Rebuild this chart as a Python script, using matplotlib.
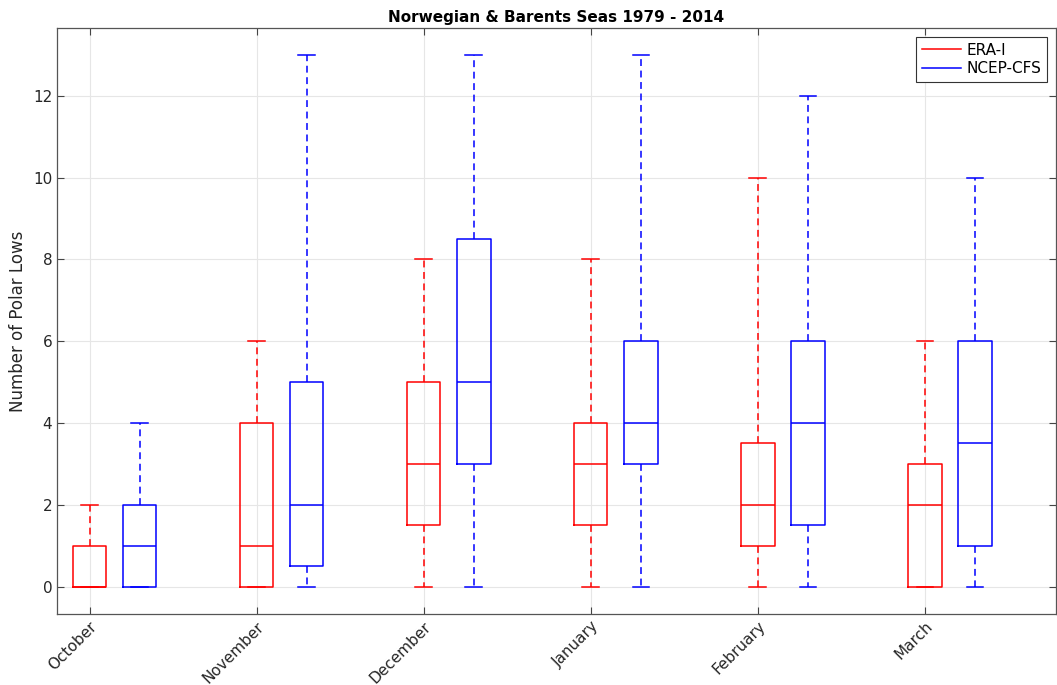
import numpy as np
import matplotlib
matplotlib.use("Agg")
import matplotlib.pyplot as plt
from matplotlib.lines import Line2D

months = ["October", "November", "December", "January", "February", "March"]

# five-number summaries: min, q1, median, q3, max
era_min = [0, 0, 0, 0, 0, 0]
era_q1 = [0, 0, 1.5, 1.5, 1, 0]
era_med = [0, 1, 3, 3, 2, 2]
era_q3 = [1, 4, 5, 4, 3.5, 3]
era_max = [2, 6, 8, 8, 10, 6]

ncep_min = [0, 0, 0, 0, 0, 0]
ncep_q1 = [0, 0.5, 3, 3, 1.5, 1]
ncep_med = [1, 2, 5, 4, 4, 3.5]
ncep_q3 = [2, 5, 8.5, 6, 6, 6]
ncep_max = [4, 13, 13, 13, 12, 10]


def make_stats(mins, q1s, meds, q3s, maxs):
    stats = []
    for lo, q1, med, q3, hi in zip(mins, q1s, meds, q3s, maxs):
        stats.append({"whislo": lo, "q1": q1, "med": med, "q3": q3,
                      "whishi": hi, "fliers": []})
    return stats


def draw(ax, stats, positions, color):
    ax.bxp(stats, positions=positions, widths=0.2, showfliers=False,
           boxprops=dict(color=color, linewidth=1.1),
           medianprops=dict(color=color, linewidth=1.1),
           whiskerprops=dict(color=color, linewidth=1.1, linestyle=(0, (4.5, 3))),
           capprops=dict(color=color, linewidth=1.1),
           capwidths=0.1, manage_ticks=False)


def main():
    fig = plt.figure(figsize=(10.57, 6.85), dpi=100)
    ax = fig.add_axes([57 / 1057, 1 - 614 / 685, 999 / 1057, 586 / 685])

    pos = np.arange(1, len(months) + 1)
    draw(ax, make_stats(era_min, era_q1, era_med, era_q3, era_max), pos, "#ff0000")
    draw(ax, make_stats(ncep_min, ncep_q1, ncep_med, ncep_q3, ncep_max), pos + 0.3, "#0000ff")

    ax.set_xlim(0.805, 6.785)
    ax.set_ylim(-0.67, 13.66)
    ax.set_xticks(pos)
    ax.set_xticklabels(months, rotation=45, ha="right", rotation_mode="anchor",
                       fontsize=11, color="#262626")
    ax.set_yticks(np.arange(0, 13, 2))
    ax.tick_params(axis="y", labelsize=11, labelcolor="#262626")
    ax.tick_params(direction="in", length=5, color="#444444", top=True, right=True)

    ax.grid(True, color="#e6e6e6", linewidth=0.8)
    ax.set_axisbelow(True)
    for s in ax.spines.values():
        s.set_color("#555555")
        s.set_linewidth(0.9)

    ax.set_ylabel("Number of Polar Lows", fontsize=12, color="#262626")
    ax.set_title("Norwegian & Barents Seas 1979 - 2014", fontsize=11,
                 fontweight="bold", pad=4.5)

    handles = [Line2D([], [], color="#ff0000", linewidth=1.1),
               Line2D([], [], color="#0000ff", linewidth=1.1)]
    leg = ax.legend(handles, ["ERA-I", "NCEP-CFS"], loc="upper right",
                    fontsize=11, fancybox=False, framealpha=1,
                    edgecolor="#333333", borderaxespad=0.6,
                    handlelength=2.6, handletextpad=0.35, borderpad=0.35,
                    labelspacing=0.25)
    leg.get_frame().set_linewidth(0.8)

    fig.savefig("out.png", dpi=100)


if __name__ == "__main__":
    main()
